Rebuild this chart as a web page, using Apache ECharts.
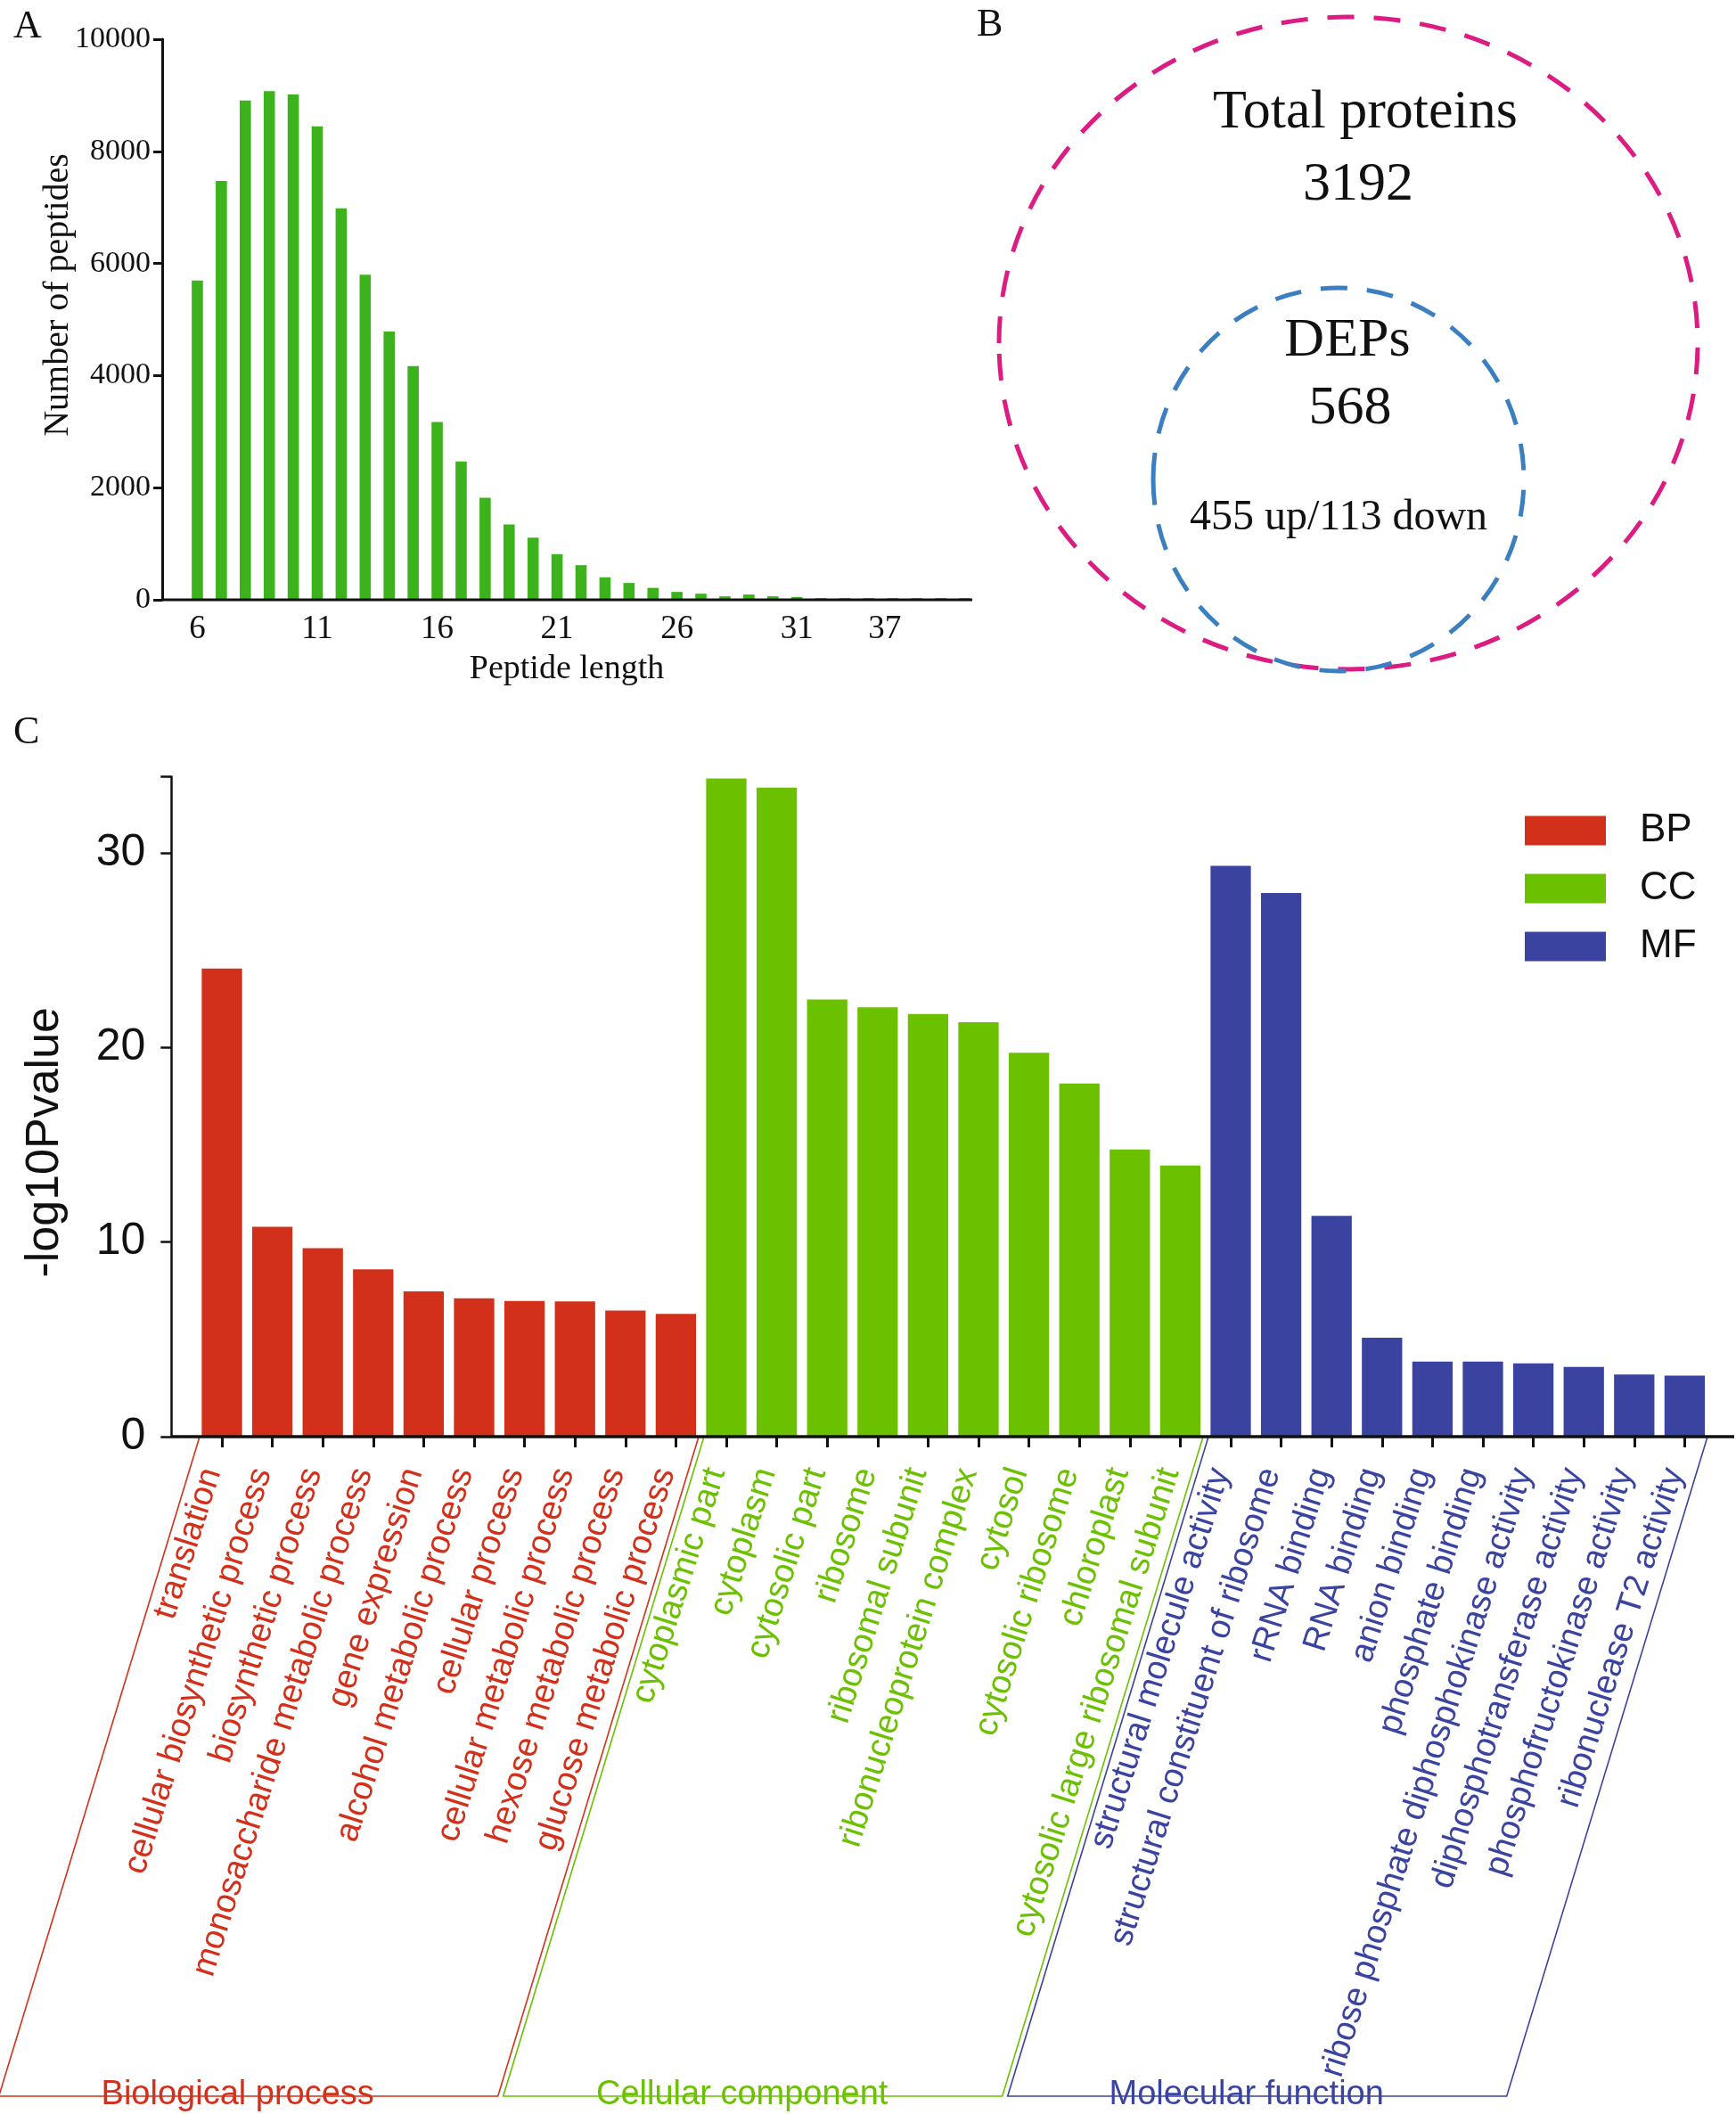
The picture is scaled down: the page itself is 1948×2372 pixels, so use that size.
<!DOCTYPE html>
<html><head><meta charset="utf-8">
<script src="https://cdn.jsdelivr.net/npm/echarts@6/dist/echarts.min.js"></script>
<style>html,body{margin:0;padding:0;background:#fff}#c{width:1948px;height:2372px}</style>
</head><body><div id="c"></div>
<script>
// ---------- Panel A data ----------
const peptideLengths = ['6','7','8','9','10','11','12','13','14','15','16','17','18','19','20','21','22','23','24','25','26','27','28','29','30','31','32','33','34','35','36','37','38'];
const peptideCounts = [5695,7474,8906,9072,9016,8447,6984,5797,4785,4169,3172,2467,1819,1343,1107,814,617,402,300,213,141,109,62,94,62,48,30,30,30,30,30,30,30];
const peptideTickLabels = ['6','11','16','21','26','31','37'];
const peptideYTicks = [0,2000,4000,6000,8000,10000];

// ---------- Panel B data ----------
const totalProteins = 3192;
const depCount = 568;
const upCount = 455;
const downCount = 113;

// ---------- Panel C data ----------
const bpTerms = ['translation','cellular biosynthetic process','biosynthetic process','monosaccharide metabolic process','gene expression','alcohol metabolic process','cellular process','cellular metabolic process','hexose metabolic process','glucose metabolic process'];
const bpValues = [24.05,10.78,9.68,8.60,7.46,7.11,6.97,6.95,6.48,6.31];
const ccTerms = ['cytoplasmic part','cytoplasm','cytosolic part','ribosome','ribosomal subunit','ribonucleoprotein complex','cytosol','cytosolic ribosome','chloroplast','cytosolic large ribosomal subunit'];
const ccValues = [33.81,33.34,22.46,22.06,21.71,21.29,19.72,18.14,14.75,13.93];
const mfTerms = ['structural molecule activity','structural constituent of ribosome','rRNA binding','RNA binding','anion binding','phosphate binding','ribose phosphate diphosphokinase activity','diphosphotransferase activity','phosphofructokinase activity','ribonuclease T2 activity'];
const mfValues = [29.33,27.93,11.34,5.08,3.86,3.86,3.77,3.58,3.19,3.14];
const groupNames = ['BP','CC','MF'];
const groupTitles = ['Biological process','Cellular component','Molecular function'];
const goYTicks = [0,10,20,30];

const COL = {BP:'#D2301B', CC:'#6BC100', MF:'#3A43A0'};
const groupColors = [COL.BP, COL.CC, COL.MF];
const allTerms = bpTerms.concat(ccTerms, mfTerms);
const groupsTerms = [bpTerms, ccTerms, mfTerms];
const groupsValues = [bpValues, ccValues, mfValues];
function termColor(t){ for (let g=0; g<3; g++) if (groupsTerms[g].indexOf(t) >= 0) return groupColors[g]; return '#000'; }
function groupSeriesData(g){
  const out = [];
  for (let gg=0; gg<3; gg++) for (let i=0;i<groupsTerms[gg].length;i++) out.push(gg===g ? groupsValues[g][i] : '-');
  return out;
}

const chart = echarts.init(document.getElementById('c'), null, {renderer:'canvas', width:1948, height:2372});
const serif = 'Liberation Serif';
const sans = 'Liberation Sans';

const option = {
  backgroundColor: '#fff',
  animation: false,
  legend: {
    data: groupNames, orient: 'vertical', left: 1706, top: 905,
    itemWidth: 91, itemHeight: 33, itemGap: 21, icon: 'rect',
    textStyle: {fontFamily: sans, fontSize: 44, color: '#111', padding: [0,0,0,33]}
  },
  grid: [
    {left: 208, top: 44, width: 888, height: 629, outerBoundsMode: 'none', containLabel: false},
    {left: 220.7, top: 871.6, width: 1698, height: 740.4, outerBoundsMode: 'none', containLabel: false}
  ],
  xAxis: [
    {type: 'category', gridIndex: 0, data: peptideLengths,
     name: 'Peptide length', nameLocation: 'middle', nameGap: 59, nameMoveOverlap: false,
     nameTextStyle: {fontFamily: serif, fontSize: 38, color: '#111', padding: [0,32,0,0]},
     axisLine: {show: false}, axisTick: {show: false},
     axisLabel: {interval: function(i, v){ return peptideTickLabels.indexOf(v) >= 0; },
       fontFamily: serif, fontSize: 37, color: '#111', margin: 15,
       formatter: function(v){ return v === '37' ? '{s|' + v + '}' : v; },
       rich: {s: {fontFamily: serif, fontSize: 37, color: '#111', padding: [0,126,0,0]}}},
     splitLine: {show: false}},
    {type: 'category', gridIndex: 1, data: allTerms,
     axisLine: {show: false},
     axisTick: {show: true, alignWithLabel: true, length: 12, lineStyle: {color: '#111', width: 3}},
     axisLabel: {interval: 0, rotate: 72.5, fontFamily: sans, fontSize: 38, lineHeight: 24, margin: 40,
       align: 'right', verticalAlign: 'bottom', hideOverlap: false,
       color: function(v){ return termColor(v); }},
     splitLine: {show: false}}
  ],
  yAxis: [
    {type: 'value', gridIndex: 0, min: 0, max: 10000, interval: 2000, offset: 26,
     name: 'Number of peptides', nameLocation: 'middle', nameRotate: 90, nameGap: 97, nameMoveOverlap: false,
     nameTextStyle: {fontFamily: serif, fontSize: 40, color: '#111', padding: [0,0,0,55]},
     axisLine: {show: true, lineStyle: {color: '#111', width: 3}},
     axisTick: {show: true, length: 10, lineStyle: {color: '#111', width: 3}},
     axisLabel: {fontFamily: serif, fontSize: 34, color: '#111', margin: 13,
       formatter: function(v){ return peptideYTicks.indexOf(v) >= 0 ? String(v) : ''; }},
     splitLine: {show: false}},
    {type: 'value', gridIndex: 1, min: 0, max: 33.9, interval: 10, offset: 28.4,
     name: '-log10Pvalue', nameLocation: 'middle', nameRotate: 90, nameGap: 116, nameMoveOverlap: false,
     nameTextStyle: {fontFamily: sans, fontSize: 52, color: '#111', padding: [0,80,0,0]},
     axisLine: {show: true, lineStyle: {color: '#111', width: 2.5}},
     axisTick: {show: true, length: 12, lineStyle: {color: '#111', width: 2.5}},
     axisLabel: {fontFamily: sans, fontSize: 50, color: '#111', margin: 29,
       formatter: function(v){ return goYTicks.indexOf(v) >= 0 ? String(v) : ''; }},
     splitLine: {show: false}}
  ],
  series: [
    {name: 'Peptides', type: 'bar', xAxisIndex: 0, yAxisIndex: 0, data: peptideCounts,
     barWidth: 12.6, itemStyle: {color: '#3CB31C'}}
  ].concat(groupNames.map(function(g, gi){
    return {name: g, type: 'bar', xAxisIndex: 1, yAxisIndex: 1, stack: 'go',
      data: groupSeriesData(gi), barWidth: '80%', itemStyle: {color: groupColors[gi]}};
  }))
};
chart.setOption(option);

// ---------- decorations computed from the axes ----------
const g = [];
// panel letters
g.push({type:'text', left: 15, top: 8, style:{text:'A', font: '44px "Liberation Serif"', fill:'#111'}});
g.push({type:'text', left: 1096, top: 6, style:{text:'B', font: '44px "Liberation Serif"', fill:'#111'}});
g.push({type:'text', left: 15, top: 800, style:{text:'C', font: '44px "Liberation Serif"', fill:'#111'}});

// Panel A baseline
const yA0 = chart.convertToPixel({yAxisIndex: 0}, 0);
g.push({type:'line', shape:{x1: 182.4, y1: yA0, x2: 1091, y2: yA0}, style:{stroke:'#111', lineWidth: 3}, z: 5});
// Panel C baseline
const yC0 = chart.convertToPixel({yAxisIndex: 1}, 0);
g.push({type:'line', shape:{x1: 192.3, y1: yC0, x2: 1946, y2: yC0}, style:{stroke:'#111', lineWidth: 3.5}, z: 5});

// Panel B: nested dashed ellipses
g.push({type:'ellipse', shape:{cx:1513, cy:385, rx:392, ry:366}, style:{fill:'none', stroke:'#DC1C82', lineWidth:5, lineDash:[30,22]}});
g.push({type:'ellipse', shape:{cx:1502, cy:538, rx:208, ry:215}, style:{fill:'none', stroke:'#3B7FC0', lineWidth:5, lineDash:[30,22]}});
const bText = [
  ['Total proteins', 1532, 127, 62],
  [String(totalProteins), 1524, 208, 62],
  ['DEPs', 1512, 383, 62],
  [String(depCount), 1515, 459, 62],
  [upCount + ' up/' + downCount + ' down', 1502, 581, 48]
];
bText.forEach(function(t){
  g.push({type:'text', x: t[1], y: t[2], style:{text: t[0], font: t[3] + 'px "Liberation Serif"', fill:'#111', align:'center', verticalAlign:'middle'}});
});

// Panel C: slanted group boxes and titles
const xC = function(name){ return chart.convertToPixel({xAxisIndex: 1}, name); };
const band = xC(allTerms[1]) - xC(allTerms[0]);
const yBottom = 2352, slant = 225;
groupsTerms.forEach(function(terms, gi){
  const left = xC(terms[0]) - band/2 + 3;
  const right = xC(terms[terms.length-1]) + band/2 - 3;
  const pts = [[left, yC0 + 1], [left - slant, yBottom], [right - slant, yBottom], [right, yC0 + 1]];
  g.push({type:'polyline', shape:{points: pts}, style:{fill:'none', stroke: groupColors[gi], lineWidth: 1.6}, z: 3});
  const mid = (left + right)/2 - slant - 12;
  g.push({type:'text', x: mid, y: yBottom - 1, style:{text: groupTitles[gi], font: '38px "Liberation Sans"', fill: groupColors[gi], align:'center', verticalAlign:'middle'}, z: 4});
});
chart.setOption({graphic: g});
</script></body></html>
